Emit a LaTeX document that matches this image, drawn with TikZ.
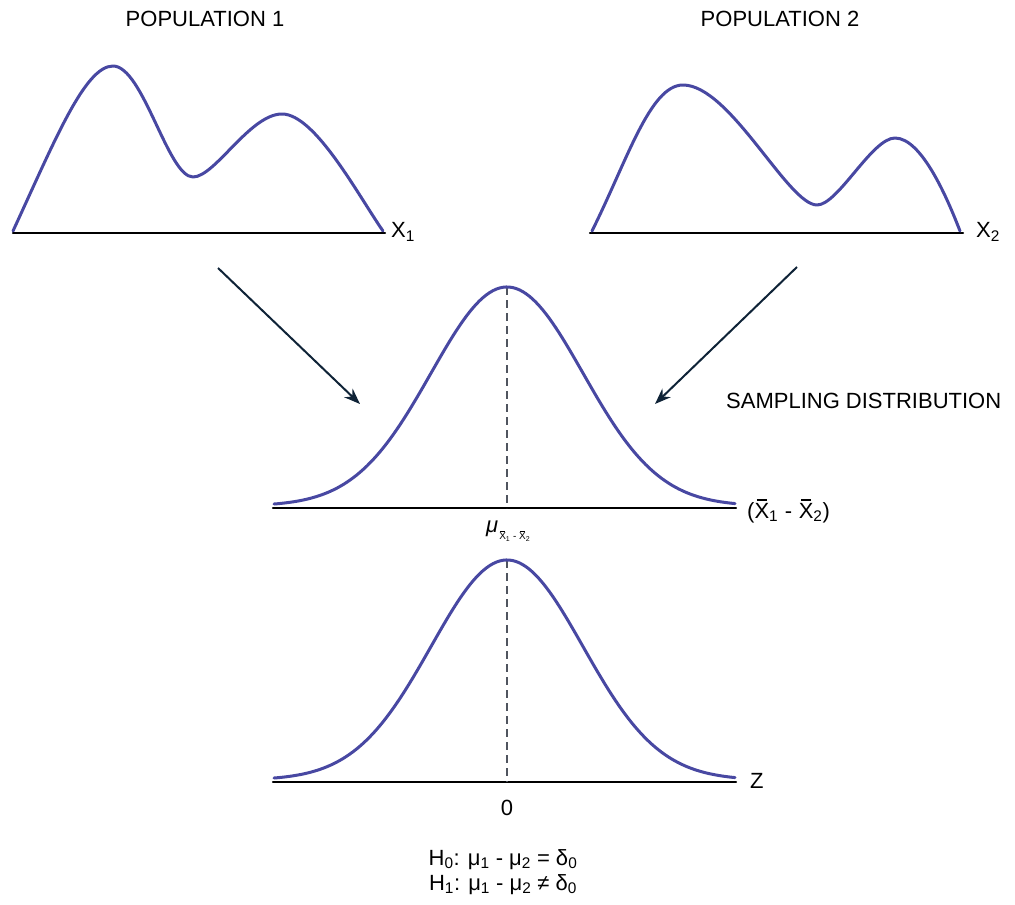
\documentclass[tikz,border=0pt]{standalone}
\usepackage{fontspec}
\setmainfont{Liberation Sans}
\usetikzlibrary{arrows.meta}
\definecolor{curveblue}{RGB}{72,72,162}
\definecolor{arrownavy}{RGB}{15,35,55}
\definecolor{dashgrey}{RGB}{80,85,95}
\newcommand\xb{\makebox[0pt][l]{\hspace{0.11em}\rule[0.8em]{0.45em}{0.06em}}X}
\begin{document}
\begin{tikzpicture}[x=1pt,y=-1pt,
  axis/.style={line width=2.2pt,black,line cap=round},
  dens/.style={line width=3pt,curveblue,line join=round,line cap=round},
  samparrow/.style={-{Stealth[length=16pt,width=12pt]},line width=2pt,arrownavy},
  meanline/.style={line width=1.3pt,dashgrey,dash pattern=on 8pt off 5pt},
  lbl/.style={font=\fontsize{22}{25}\selectfont,inner sep=0pt}]
\useasboundingbox (0,0) rectangle (1015,905);

% titles
\node[lbl] (pop1) at (205,19) {POPULATION 1};
\node[lbl] (pop2) at (780,19) {POPULATION 2};

% population 1
\coordinate (p1l) at (13,233);
\coordinate (p1r) at (385,233);
\draw[axis] (p1l) -- (p1r);
\draw[dens] (13,231) .. controls (55,140) and (85,66) .. (113,66)
  .. controls (143,66) and (168,177) .. (193,177)
  .. controls (215,177) and (250,114) .. (282,114)
  .. controls (315,114) and (358,195) .. (383,231);
\node[lbl,anchor=west] (x1) at (391,232) {X\textsubscript{1}};

% population 2
\coordinate (p2l) at (590,233);
\coordinate (p2r) at (963,233);
\draw[axis] (p2l) -- (p2r);
\draw[dens] (592,231) .. controls (627,161) and (650,85) .. (683,85)
  .. controls (730,85) and (788,205) .. (817,205)
  .. controls (838,205) and (872,138) .. (895,138)
  .. controls (922,138) and (948,200) .. (960,231);
\node[lbl,anchor=west] (x2) at (976,232) {X\textsubscript{2}};

% arrows
\coordinate (a1s) at (218,268);
\coordinate (a1e) at (360,404);
\coordinate (a2s) at (797,267);
\coordinate (a2e) at (655,404);
\draw[samparrow] (a1s) -- (a1e);
\draw[samparrow] (a2s) -- (a2e);

\node[lbl,anchor=west] (samp) at (726,401) {SAMPLING DISTRIBUTION};

% sampling distribution
\coordinate (s1l) at (273,508);
\coordinate (s1r) at (736,508);
\coordinate (s1top) at (507,287);
\coordinate (s1base) at (507,508);
\draw[axis] (s1l) -- (s1r);
\draw[meanline] (s1top) -- (s1base);
\draw[dens] plot[domain=274:735,samples=140] (\x,{508-2-219*exp(-0.5*((\x-507)/76)^2)});
\node[lbl,anchor=west] (xdiff) at (747,511) {(\xb\textsubscript{1}\hspace{0.3em}-\hspace{0.3em}\xb\textsubscript{2})};
\node[lbl,anchor=west] (mu) at (486,531) {\itshape μ\kern1pt\raisebox{-0.35em}{\normalfont\fontsize{10}{11}\selectfont\xb\textsubscript{1} - \xb\textsubscript{2}}};

% standard normal
\coordinate (s2l) at (273,782);
\coordinate (s2r) at (736,782);
\coordinate (s2top) at (507,560);
\coordinate (s2base) at (507,782);
\draw[axis] (s2l) -- (s2r);
\draw[meanline] (s2top) -- (s2base);
\draw[dens] plot[domain=274:735,samples=140] (\x,{782-2-220*exp(-0.5*((\x-507)/76)^2)});
\node[lbl,anchor=west] (z) at (750,781) {Z};
\node[lbl] (zero) at (507,808) {0};

% hypotheses
\node[lbl,align=center] (hyp) at (503,872) {H\textsubscript{0}: μ\textsubscript{1} - μ\textsubscript{2} = δ\textsubscript{0}\\H\textsubscript{1}: μ\textsubscript{1} - μ\textsubscript{2} ≠ δ\textsubscript{0}};
\end{tikzpicture}
\end{document}
